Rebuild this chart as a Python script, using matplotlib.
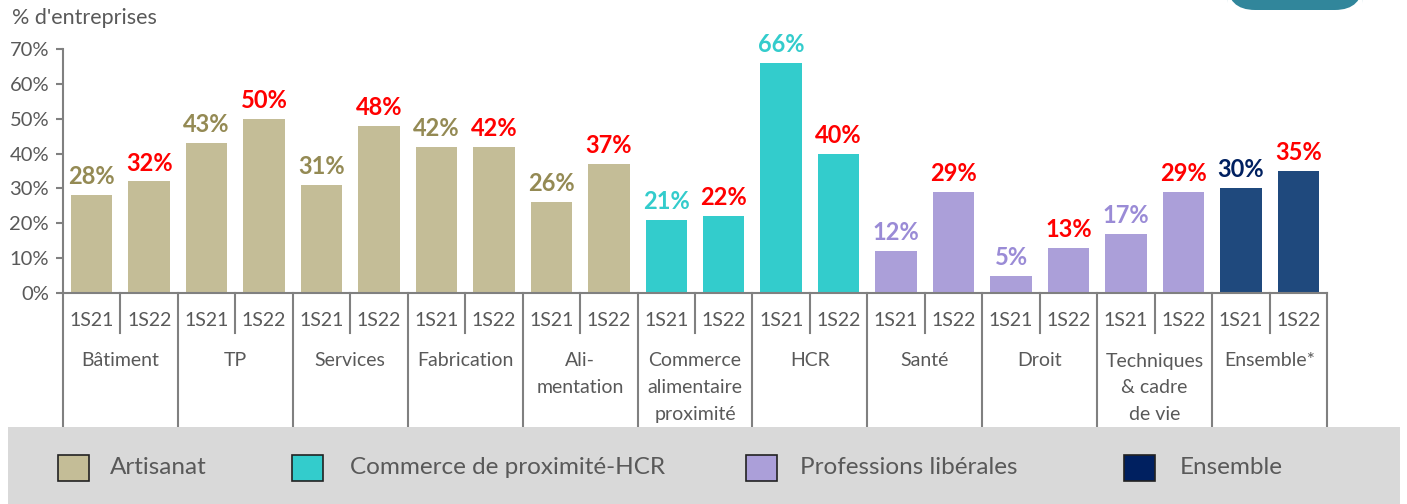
import matplotlib
matplotlib.use("Agg")
import matplotlib.pyplot as plt
from matplotlib.patches import Rectangle, FancyBboxPatch
from matplotlib.transforms import blended_transform_factory

plt.rcParams['font.family'] = ['Lato', 'DejaVu Sans']

# données
groups = ["Bâtiment", "TP", "Services", "Fabrication", "Ali-\nmentation",
          "Commerce\nalimentaire\nproximité", "HCR", "Santé", "Droit",
          "Techniques\n& cadre\nde vie", "Ensemble*"]
periods = ["1S21", "1S22"]
v_1s21 = [28, 43, 31, 42, 26, 21, 66, 12, 5, 17, 30]
v_1s22 = [32, 50, 48, 42, 37, 22, 40, 29, 13, 29, 35]
secteur = ["art", "art", "art", "art", "art", "com", "com", "pl", "pl", "pl", "ens"]
legend_labels = ["Artisanat", "Commerce de proximité-HCR", "Professions libérales", "Ensemble"]

bar_col = {"art": "#c4bd97", "com": "#33cccc", "pl": "#ab9fd9", "ens": "#1f497d"}
lab_col = {"art": "#948a54", "com": "#33cccc", "pl": "#9a8bd6", "ens": "#002060"}
leg_col = ["#c4bd97", "#33cccc", "#ab9fd9", "#002060"]
grey = "#595959"
line_grey = "#808080"

W, H = 1407, 504
fig = plt.figure(figsize=(W / 100, H / 100), dpi=100)

def fx(px):
    return px / W

def fy(py):
    return 1 - py / H

ax = fig.add_axes([fx(63), fy(293), fx(1327) - fx(63), fy(49) - fy(293)])

# barres
n = len(groups)
for i in range(n):
    for j, v in enumerate([v_1s21[i], v_1s22[i]]):
        x = 2 * i + j
        ax.bar(x, v, width=0.72, color=bar_col[secteur[i]], zorder=2)
        c = lab_col[secteur[i]] if j == 0 else "#ff0000"
        ax.annotate(f"{v}%", (x, v), xytext=(0, 5), textcoords="offset points",
                    ha="center", va="bottom", fontsize=17, fontweight="bold", color=c)

ax.set_xlim(-0.5, 2 * n - 0.5)
ax.set_ylim(0, 70)
ax.set_yticks(range(0, 71, 10))
ax.set_yticklabels([f"{t}%" for t in range(0, 71, 10)], fontsize=14.5, color=grey)
ax.tick_params(axis="y", direction="out", length=5, width=1.5, color=line_grey, pad=5)
ax.set_xticks([])
for s in ["top", "right"]:
    ax.spines[s].set_visible(False)
for s in ["left", "bottom"]:
    ax.spines[s].set_color(line_grey)
    ax.spines[s].set_linewidth(1.5)

# axe à deux niveaux
tr = blended_transform_factory(ax.transData, ax.transAxes)

def ay(py):
    return (293 - py) / 244

for k in range(2 * n + 1):
    x = k - 0.5
    y_end = ay(427) if k % 2 == 0 else ay(333)
    ax.plot([x, x], [0, y_end], transform=tr, color=line_grey, lw=1.5, clip_on=False)
for i in range(n):
    for j, p in enumerate(periods):
        ax.text(2 * i + j, ay(321), p, transform=tr, ha="center", va="center",
                fontsize=14, color=grey)
    for k, line in enumerate(groups[i].split("\n")):
        ax.text(2 * i + 0.5, ay(361 + 26.5 * k), line, transform=tr, ha="center",
                va="center", fontsize=14, color=grey)

fig.text(fx(12), fy(18), "% d'entreprises", ha="left", va="center", fontsize=15.5, color=grey)

# bandeau légende
fig.patches.append(Rectangle((fx(8), 0), fx(1400) - fx(8), fy(427), transform=fig.transFigure,
                             facecolor="#d9d9d9", edgecolor="none", zorder=0))
leg_x = [58, 292, 746, 1124]
txt_x = [110, 350, 800, 1180]
for lx, tx, lab, c in zip(leg_x, txt_x, legend_labels, leg_col):
    fig.patches.append(Rectangle((fx(lx), fy(481)), fx(31), fy(455) - fy(481),
                                 transform=fig.transFigure, facecolor=c,
                                 edgecolor="#222222", lw=1.2, zorder=3))
    fig.text(fx(tx), fy(468), lab, ha="left", va="center", fontsize=17.5, color=grey)

# bouton en haut à droite
fig.patches.append(FancyBboxPatch((fx(1227), fy(10)), fx(1363) - fx(1227), fy(0) - fy(10) + 0.05,
                                  boxstyle="round,pad=0,rounding_size=0.02",
                                  transform=fig.transFigure, facecolor="#31869b",
                                  edgecolor="none", zorder=3, mutation_aspect=2.8))

fig.savefig("out.png", dpi=100)
